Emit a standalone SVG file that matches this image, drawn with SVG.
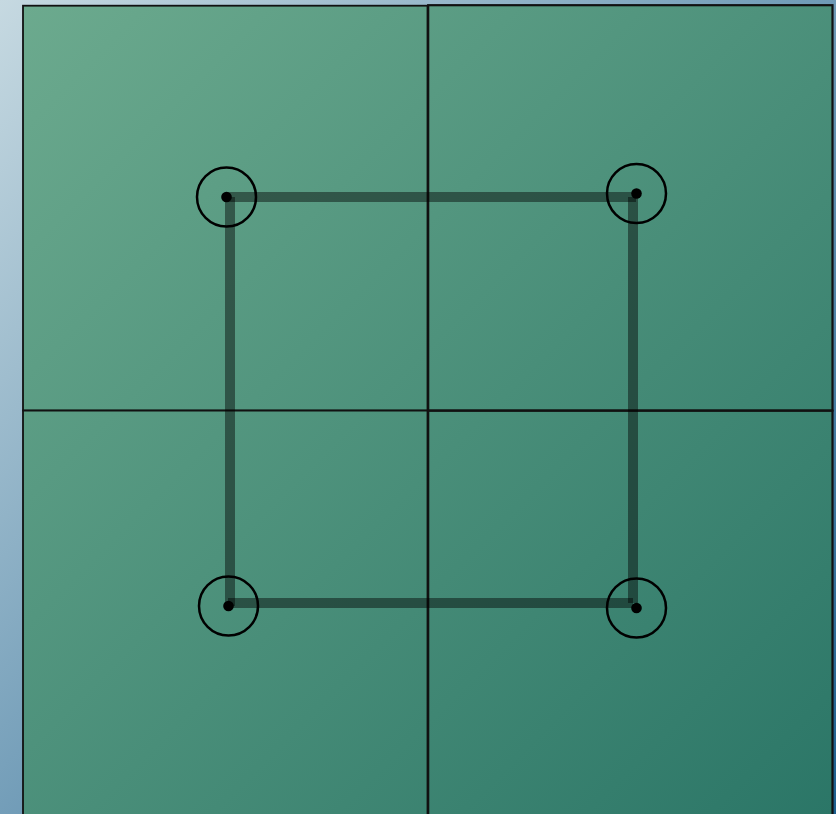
<svg xmlns="http://www.w3.org/2000/svg" width="836" height="814" viewBox="0 0 836 814">
  <defs>
    <linearGradient id="bg" x1="0" y1="0" x2="836" y2="814" gradientUnits="userSpaceOnUse">
      <stop offset="0" stop-color="#c6d9e1"/>
      <stop offset="1" stop-color="#1c5f8e"/>
    </linearGradient>
    <linearGradient id="green" x1="22" y1="5" x2="833" y2="814" gradientUnits="userSpaceOnUse">
      <stop offset="0" stop-color="#6caa8e"/>
      <stop offset="1" stop-color="#2b7667"/>
    </linearGradient>
  </defs>
  <style>
    .quad { fill: url(#green); stroke: #111; }
    .path { stroke: #000; stroke-opacity: 0.44; stroke-width: 10; fill: none; }
    .ring { fill: none; stroke: #000; stroke-width: 2.5; }
    .dot { fill: #000; }
  </style>
  <rect x="0" y="0" width="836" height="814" fill="url(#bg)"/>
  <g id="quadrant-tl"><rect class="quad" x="23" y="5.7" width="404.5" height="404.8" stroke-width="1.8"/></g>
  <g id="quadrant-tr"><rect class="quad" x="428.2" y="5.2" width="404.3" height="405.3" stroke-width="2.2"/></g>
  <g id="quadrant-bl"><rect class="quad" x="23" y="410.6" width="404.5" height="410" stroke-width="1.8"/></g>
  <g id="quadrant-br"><rect class="quad" x="428.2" y="410.8" width="404.3" height="410" stroke-width="2.2"/></g>
  <g id="connectors">
    <line class="path" x1="226" y1="197" x2="636" y2="197"/>
    <line class="path" x1="633" y1="197" x2="633" y2="603"/>
    <line class="path" x1="228" y1="603" x2="633" y2="603"/>
    <line class="path" x1="230" y1="197" x2="230" y2="606"/>
  </g>
  <g id="node-tl"><circle class="ring" cx="226.5" cy="197" r="29.5"/><circle class="dot" cx="226.5" cy="197" r="5.3"/></g>
  <g id="node-tr"><circle class="ring" cx="636.5" cy="193.5" r="29.5"/><circle class="dot" cx="636.5" cy="193.5" r="5.3"/></g>
  <g id="node-bl"><circle class="ring" cx="228.5" cy="606" r="29.5"/><circle class="dot" cx="228.5" cy="606" r="5.3"/></g>
  <g id="node-br"><circle class="ring" cx="636.5" cy="608" r="29.5"/><circle class="dot" cx="636.5" cy="608" r="5.3"/></g>
</svg>
